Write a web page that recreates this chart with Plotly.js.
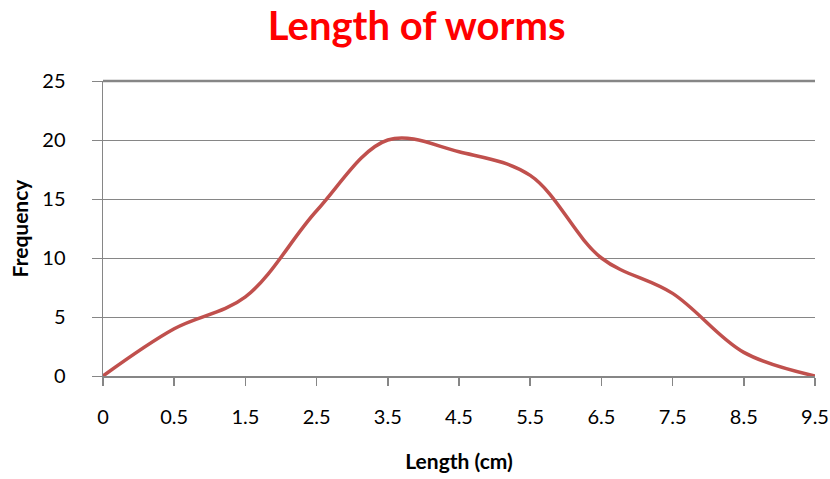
<!DOCTYPE html>
<html>
<head>
<meta charset="utf-8">
<script src="https://cdn.plot.ly/plotly-3.0.1.min.js"></script>
<style>
  html, body { margin: 0; padding: 0; background: #ffffff; }
  #chart { width: 830px; height: 479px; }
</style>
</head>
<body>
<div id="chart"></div>
<script>
// Worm length survey: frequency of each length class
const lengths = ['0', '0.5', '1.5', '2.5', '3.5', '4.5', '5.5', '6.5', '7.5', '8.5', '9.5'];
const frequency = [0, 4, 6.7, 14, 20, 19, 17, 10, 7, 2, 0];
const yTicks = [0, 5, 10, 15, 20, 25];

const gridGrey = '#868686';
const font = 'Lato, "Open Sans", "DejaVu Sans", sans-serif';

const trace = {
  type: 'scatter',
  mode: 'lines',
  x: lengths,
  y: frequency,
  line: { color: '#C0504D', width: 3.5, shape: 'spline', smoothing: 1 },
  hoverinfo: 'x+y'
};

const layout = {
  width: 830,
  height: 479,
  margin: { l: 103, r: 15, t: 81, b: 103 },
  paper_bgcolor: '#ffffff',
  plot_bgcolor: '#ffffff',
  showlegend: false,
  font: { family: font, color: '#000000', size: 20 },
  title: {
    text: '<b>Length of worms</b>',
    font: { family: font, size: 40, color: '#FF0000' },
    x: 0.502, xanchor: 'center',
    y: 0.945, yanchor: 'middle', yref: 'container'
  },
  xaxis: {
    type: 'category',
    range: [0, lengths.length - 1],
    showgrid: false,
    showline: true,
    linecolor: gridGrey,
    linewidth: 1.5,
    ticks: 'outside',
    ticklen: 8,
    tickcolor: gridGrey,
    tickwidth: 1.5,
    ticklabelstandoff: 14,
    tickfont: { family: font, size: 20, color: '#000000' },
    title: {
      text: '<b>Length (cm)</b>',
      font: { family: font, size: 21, color: '#000000' },
      standoff: 28
    },
    zeroline: false,
    automargin: false
  },
  yaxis: {
    range: [0, 25],
    tickvals: yTicks,
    showgrid: true,
    gridcolor: gridGrey,
    gridwidth: 1,
    showline: true,
    linecolor: gridGrey,
    linewidth: 1.5,
    ticks: 'outside',
    ticklen: 10,
    tickcolor: gridGrey,
    tickwidth: 1,
    ticklabelstandoff: 22,
    tickfont: { family: font, size: 20, color: '#000000' },
    title: {
      text: '<b>Frequency</b>',
      font: { family: font, size: 21, color: '#000000' },
      standoff: 8
    },
    zeroline: false,
    automargin: false
  },
  shapes: [{
    type: 'line', xref: 'paper', yref: 'paper',
    x0: 0, x1: 1, y0: 1, y1: 1,
    line: { color: gridGrey, width: 2.5 }
  }]
};

Plotly.newPlot('chart', [trace], layout, { displayModeBar: false, staticPlot: true });
</script>
</body>
</html>
